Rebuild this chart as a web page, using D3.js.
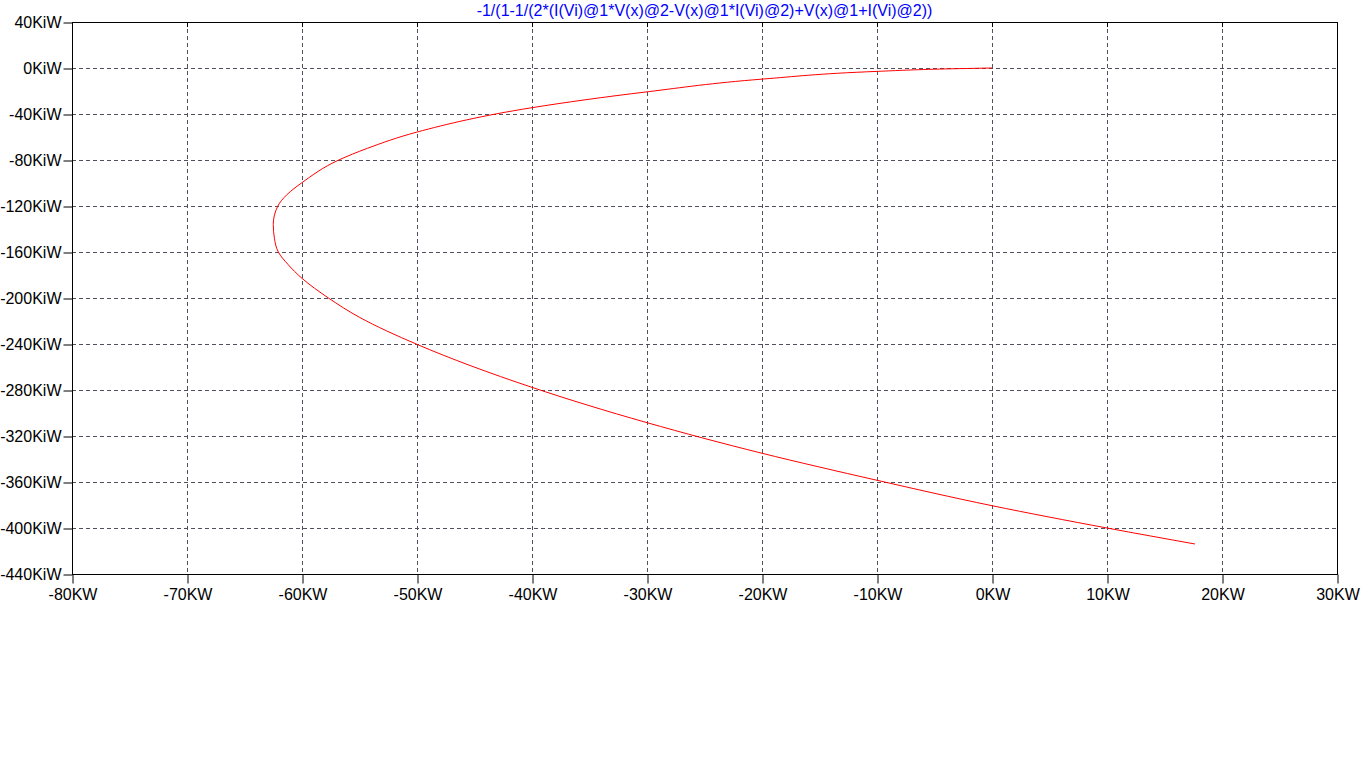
<!DOCTYPE html>
<html><head><meta charset="utf-8">
<script src="https://cdn.jsdelivr.net/npm/d3@7"></script>
<style>body{margin:0;background:#fff}svg{display:block}</style>
</head><body>
<svg id="c" width="1366" height="768"></svg>
<script>
const title = "-1/(1-1/(2*(I(Vi)@1*V(x)@2-V(x)@1*I(Vi)@2)+V(x)@1+I(Vi)@2))";
const xTicks = [-80,-70,-60,-50,-40,-30,-20,-10,0,10,20,30];
const yTicks = [40,0,-40,-80,-120,-160,-200,-240,-280,-320,-360,-400,-440];
// curve samples: x in KW, y in KiW
const curveX = [0,-4,-9.9,-19.9,-29.9,-40,-50,-54.3,-56.8,-60,-61.3,-62.1,-62.5,-62.4,-62.06,-61.2,-60,-57.7,-55,-50,-40,-30,-20,-10,0,10,17.65];
const curveY = [0,-0.8,-2.9,-9.6,-20.6,-34.5,-55.7,-69.8,-80,-99.7,-110,-120,-136,-148,-160,-171,-182.9,-200,-216.8,-240.3,-277.7,-308.4,-335,-358.5,-380.6,-400,-413.9];

const svg = d3.select("#c");
const L=72,R=1337,T=22,B=574;
const x = d3.scaleLinear().domain([-80,30]).range([L,R]);
const y = d3.scaleLinear().domain([-440,40]).range([B,T]);
const font = "'Liberation Sans', Arial, sans-serif";

// grid
const g = svg.append("g");
g.selectAll("line.vx").data(xTicks.filter(d=>d>-80&&d<30)).join("line")
  .attr("x1",d=>x(d)+0.5).attr("x2",d=>x(d)+0.5).attr("y1",T).attr("y2",B)
  .attr("stroke","#505060").attr("stroke-dasharray","4,3").attr("stroke-width",1);
g.selectAll("line.hy").data(yTicks.filter(d=>d>-440&&d<40)).join("line")
  .attr("y1",d=>Math.round(y(d))+0.5).attr("y2",d=>Math.round(y(d))+0.5).attr("x1",L).attr("x2",R)
  .attr("stroke","#505060").attr("stroke-dasharray","4,3").attr("stroke-width",1);

// top inward ticks
g.selectAll("line.tt").data(xTicks.filter(d=>d>-80&&d<30)).join("line")
  .attr("x1",d=>x(d)+0.5).attr("x2",d=>x(d)+0.5).attr("y1",T).attr("y2",T+5)
  .attr("stroke","#000");

// axes
const xa = svg.append("g").attr("transform",`translate(0.5,${B+0.5})`)
  .call(d3.axisBottom(x).tickValues(xTicks).tickFormat(d=>d+"KW").tickSize(9).tickPadding(5));
const ya = svg.append("g").attr("transform",`translate(${L+0.5},0.5)`)
  .call(d3.axisLeft(y).tickValues(yTicks).tickFormat(d=>d+"KiW").tickSize(9).tickPadding(2));
[xa,ya].forEach(a=>{
  a.select(".domain").remove();
  a.selectAll("line").attr("stroke","#000");
  a.selectAll("text").attr("font-family",font).attr("font-size",16).attr("fill","#000");
});
xa.selectAll("text").attr("dy","0.71em");
// frame
svg.append("rect").attr("x",L+0.5).attr("y",T+0.5).attr("width",R-L).attr("height",B-T)
  .attr("fill","none").attr("stroke","#000").attr("stroke-width",1);

// curve
const pts = curveX.map((v,i)=>[v,curveY[i]]);
svg.append("path").datum(pts)
  .attr("d",d3.line().x(d=>x(d[0])).y(d=>y(d[1])).curve(d3.curveMonotoneY))
  .attr("fill","none").attr("stroke","#ff0000").attr("stroke-width",1);

// title
svg.append("text").attr("x",(L+R)/2).attr("y",16).attr("text-anchor","middle")
  .attr("font-family",font).attr("font-size",16).attr("fill","#0000ff").text(title);
</script>
</body></html>
